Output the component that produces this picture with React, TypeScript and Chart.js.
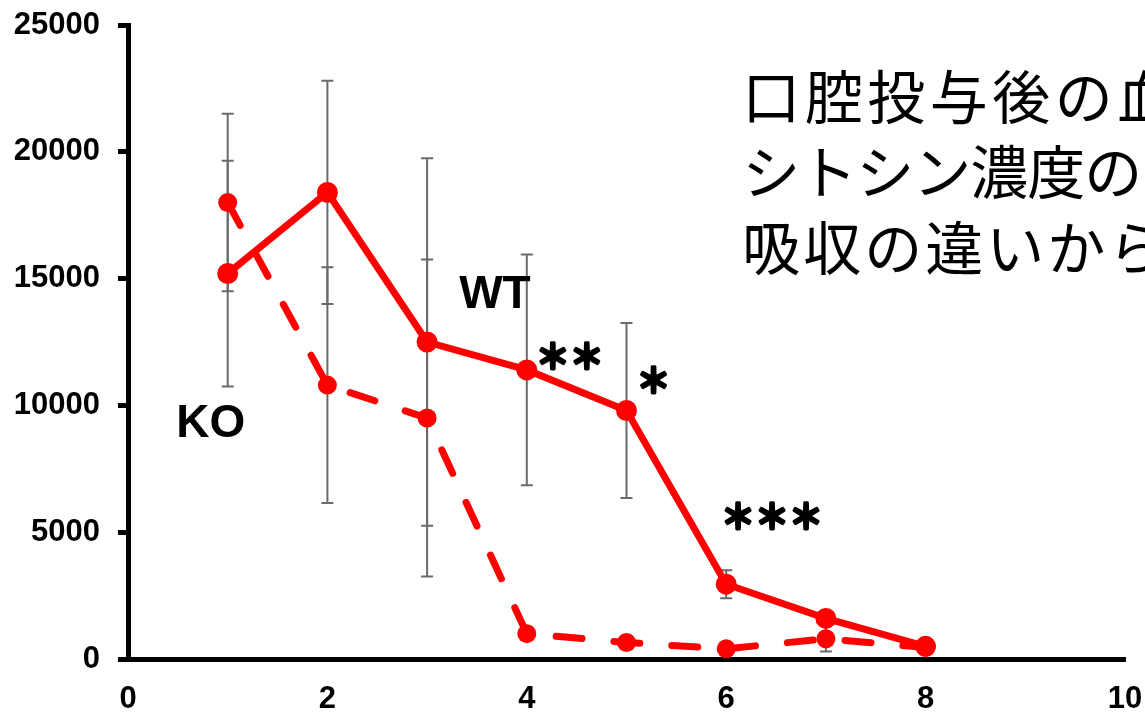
import React, { useEffect, useRef } from 'react';
import { Chart, registerables } from 'chart.js';

Chart.register(...registerables);

// ---- data ----
const xValues = [1, 2, 3, 4, 5, 6, 7, 8];
const wtValues = [15200, 18400, 12500, 11400, 9800, 2950, 1600, 500];
const koValues = [18000, 10800, 9500, 1000, 650, 400, 800, 450];
const wtErrors = [4450, 4400, 7250, 4550, 3450, 550, 250, 150];
const koErrors = [3500, 4650, 6250, 250, 200, 250, 500, 150];
const xTickValues = [0, 2, 4, 6, 8, 10];
const yTickValues = [0, 5000, 10000, 15000, 20000, 25000];
const seriesNames = ['WT', 'KO'];

// annotation labels (anchored in data coordinates)
const labelTexts = ['KO', 'WT', '＊＊', '＊', '＊＊＊'];
const labelX = [0.83, 3.68, 4.43, 5.27, 6.46];
const labelY = [9270, 14350, 11950, 11000, 5640];
const titleLines = ['口腔投与後の血中オキ', 'シトシン濃度の', '吸収の違いから'];
const titleX = 6.16;
const titleY = [22160, 19200, 16210];
const titlePitch = [62.5, 57, 61];

const LATIN = '"Liberation Sans", Arial, sans-serif';
const CJK = '"Noto Sans CJK JP", sans-serif';

const errorBarPlugin = {
  id: 'errorBars',
  beforeDatasetsDraw(chart: any) {
    const { ctx, scales } = chart;
    const x = scales.x;
    const y = scales.y;
    ctx.save();
    ctx.strokeStyle = '#6a6a6a';
    ctx.lineWidth = 2;
    const sets: [number[], number[]][] = [
      [wtValues, wtErrors],
      [koValues, koErrors],
    ];
    sets.forEach(([vals, errs]) => {
      xValues.forEach((xv, i) => {
        const px = x.getPixelForValue(xv);
        const top = y.getPixelForValue(vals[i] + errs[i]);
        const bot = y.getPixelForValue(vals[i] - errs[i]);
        ctx.beginPath();
        ctx.moveTo(px, top);
        ctx.lineTo(px, bot);
        ctx.moveTo(px - 6, top);
        ctx.lineTo(px + 6, top);
        ctx.moveTo(px - 6, bot);
        ctx.lineTo(px + 6, bot);
        ctx.stroke();
      });
    });
    ctx.restore();
  },
};

const annotationPlugin = {
  id: 'annotations',
  afterDatasetsDraw(chart: any) {
    const { ctx, scales } = chart;
    const x = scales.x;
    const y = scales.y;
    ctx.save();
    ctx.fillStyle = '#000';
    ctx.strokeStyle = '#000';
    ctx.textBaseline = 'middle';
    ctx.textAlign = 'center';
    labelTexts.forEach((t, i) => {
      const isStar = t.indexOf('＊') >= 0;
      const px = x.getPixelForValue(labelX[i]);
      const py = y.getPixelForValue(labelY[i]);
      if (isStar) {
        ctx.font = `bold 34px ${CJK}`;
        ctx.lineWidth = 3;
        ctx.lineJoin = 'round';
        ctx.strokeText(t, px, py);
        ctx.fillText(t, px, py);
      } else {
        ctx.font = `bold 46px ${LATIN}`;
        ctx.fillText(t, px, py);
      }
    });
    ctx.font = `400 58px ${CJK}`;
    ctx.textAlign = 'left';
    titleLines.forEach((line, i) => {
      const x0 = x.getPixelForValue(titleX);
      const py = y.getPixelForValue(titleY[i]);
      Array.from(line).forEach((ch, k) => {
        ctx.fillText(ch, x0 + k * titlePitch[i], py);
      });
    });
    ctx.restore();
  },
};

export default function App() {
  const canvasRef = useRef<HTMLCanvasElement | null>(null);

  useEffect(() => {
    document.body.style.margin = '0';
    const canvas = canvasRef.current;
    if (!canvas) return;
    const chart = new Chart(canvas, {
      type: 'line',
      data: {
        datasets: [
          {
            label: seriesNames[0],
            data: xValues.map((xv, i) => ({ x: xv, y: wtValues[i] })),
            borderColor: '#ff0000',
            backgroundColor: '#ff0000',
            borderWidth: 7,
            pointRadius: 10.5,
            pointBorderWidth: 0,
            pointBackgroundColor: '#ff0000',
            tension: 0,
            clip: false,
            order: 0,
          },
          {
            label: seriesNames[1],
            data: xValues.map((xv, i) => ({ x: xv, y: koValues[i] })),
            borderColor: '#ff0000',
            backgroundColor: '#ff0000',
            borderWidth: 7,
            borderDash: [26, 32],
            borderCapStyle: 'round',
            pointRadius: 9.5,
            pointBorderWidth: 0,
            pointBackgroundColor: '#ff0000',
            tension: 0,
            clip: false,
            order: 1,
          },
        ],
      } as any,
      options: {
        responsive: false,
        animation: false,
        layout: { padding: { top: 25, right: 20, left: 0, bottom: 0 } },
        plugins: {
          legend: { display: false },
          tooltip: { enabled: false },
          title: { display: false },
        },
        scales: {
          x: {
            type: 'linear',
            min: 0,
            max: 10,
            afterBuildTicks: (scale: any) => {
              scale.ticks = xTickValues.map((v) => ({ value: v }));
            },
            afterFit: (scale: any) => {
              scale.height = 54;
              scale.paddingLeft = 0;
              scale.paddingRight = 0;
            },
            grid: { display: false },
            border: { display: true, width: 5, color: '#000' },
            ticks: {
              color: '#000',
              padding: 14,
              maxRotation: 0,
              autoSkip: false,
              font: { family: LATIN, size: 31, weight: 'bold' },
            },
          },
          y: {
            type: 'linear',
            min: 0,
            max: 25000,
            afterBuildTicks: (scale: any) => {
              scale.ticks = yTickValues.map((v) => ({ value: v }));
            },
            afterFit: (scale: any) => {
              scale.width = 128;
              scale.paddingTop = 0;
              scale.paddingBottom = 0;
            },
            grid: {
              display: true,
              drawOnChartArea: false,
              drawTicks: true,
              tickLength: 10,
              tickWidth: 5,
              tickColor: '#000',
              color: '#000',
            },
            border: { display: true, width: 5, color: '#000' },
            ticks: {
              color: '#000',
              padding: 18,
              autoSkip: false,
              font: { family: LATIN, size: 31, weight: 'bold' },
              callback: (v: any) => String(v),
            },
          },
        },
      } as any,
      plugins: [errorBarPlugin, annotationPlugin],
    });
    return () => chart.destroy();
  }, []);

  return (
    <div style={{ width: 1145, height: 713, background: '#fff' }}>
      <canvas ref={canvasRef} width={1145} height={713} style={{ display: 'block' }} />
    </div>
  );
}
